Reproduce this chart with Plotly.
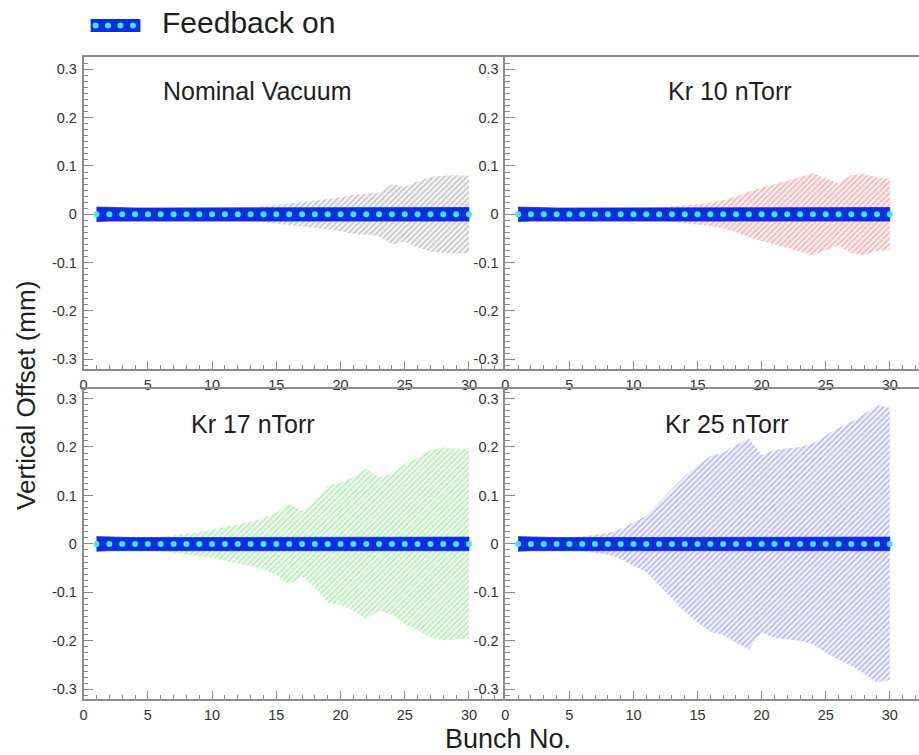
import plotly.graph_objects as go

W, H = 919, 755

# ---- data -------------------------------------------------------------
bunches = list(range(1, 31))

# feedback on: mean offset and its spread (mm)
fb_mean = [0.0, 0.0, 0.0, 0.0, 0.0, 0.0, 0.0, 0.0, 0.0, 0.0,
           0.0, 0.0, 0.0, 0.0, 0.0, 0.0, 0.0, 0.0, 0.0, 0.0,
           0.0, 0.0, 0.0, 0.0, 0.0, 0.0, 0.0, 0.0, 0.0, 0.0]
fb_err = [0.015, 0.014, 0.013, 0.013, 0.013, 0.013, 0.013, 0.013, 0.013, 0.013,
          0.013, 0.013, 0.014, 0.014, 0.014, 0.014, 0.014, 0.014, 0.014, 0.014,
          0.014, 0.014, 0.014, 0.014, 0.014, 0.014, 0.014, 0.014, 0.014, 0.014]

# feedback off: spread of the vertical offset per bunch (mm)
spread_nominal = [0.004, 0.004, 0.005, 0.005, 0.006, 0.006, 0.006, 0.007, 0.007, 0.008,
                  0.009, 0.011, 0.013, 0.016, 0.019, 0.022, 0.025, 0.028, 0.031, 0.035,
                  0.040, 0.043, 0.045, 0.062, 0.057, 0.068, 0.077, 0.080, 0.081, 0.080]
spread_kr10 = [0.004, 0.004, 0.005, 0.005, 0.006, 0.006, 0.007, 0.008, 0.010, 0.012,
               0.013, 0.014, 0.016, 0.018, 0.021, 0.024, 0.029, 0.037, 0.047, 0.055,
               0.062, 0.069, 0.077, 0.085, 0.074, 0.064, 0.081, 0.084, 0.076, 0.074]
spread_kr17 = [0.004, 0.006, 0.008, 0.010, 0.012, 0.015, 0.018, 0.021, 0.025, 0.029,
               0.034, 0.040, 0.046, 0.053, 0.064, 0.083, 0.068, 0.091, 0.121, 0.126,
               0.138, 0.155, 0.138, 0.145, 0.165, 0.178, 0.193, 0.199, 0.197, 0.195]
spread_kr25 = [0.004, 0.005, 0.007, 0.009, 0.012, 0.015, 0.018, 0.022, 0.031, 0.045,
               0.058, 0.086, 0.113, 0.140, 0.162, 0.181, 0.188, 0.204, 0.218, 0.183,
               0.194, 0.197, 0.200, 0.207, 0.224, 0.239, 0.252, 0.268, 0.286, 0.281]

panel_titles = ["Nominal Vacuum", "Kr 10 nTorr", "Kr 17 nTorr", "Kr 25 nTorr"]
panel_spreads = [spread_nominal, spread_kr10, spread_kr17, spread_kr25]

x_tickvals = [0, 5, 10, 15, 20, 25, 30]
x_ticktext = ["0", "5", "10", "15", "20", "25", "30"]
y_tickvals = [-0.3, -0.2, -0.1, 0.0, 0.1, 0.2, 0.3]
y_ticktext = ["-0.3", "-0.2", "-0.1", "0", "0.1", "0.2", "0.3"]

# ---- styling ----------------------------------------------------------
FONT = "Liberation Sans, Arial, Helvetica, sans-serif"
AXIS_GREY = "#8c8c8c"
TICK_FONT = dict(family=FONT, size=14.5, color="#333333")
BAND_BLUE = "#0c2ee0"
DOT_CYAN = "#3fe6ff"
hatch_fg = ["#858585", "#f06060", "#62dc62", "#6a6aec"]
hatch_bg = ["rgba(128,128,128,0.08)", "rgba(238,80,80,0.08)",
            "rgba(80,216,80,0.08)", "rgba(90,90,232,0.08)"]


def px_x(p):
    return p / W


def px_y(p):
    return 1 - p / H


# panel geometry (pixels): left/right columns, top/bottom rows
col_dom = [[px_x(80), px_x(503)], [px_x(503.5), 1.0]]
row_dom = [[px_y(369), px_y(56.7)], [px_y(699), px_y(389.3)]]
col_xrange = [[0, 32.79], [0, 32.28]]
row_yrange = [[-0.320, 0.326], [-0.320, 0.319]]

fig = go.Figure()

for i, (title, spread) in enumerate(zip(panel_titles, panel_spreads)):
    r, c = divmod(i, 2)
    n = i + 1
    xa = "x" if n == 1 else f"x{n}"
    ya = "y" if n == 1 else f"y{n}"

    # hatched envelope (feedback off)
    upper = [m + s for m, s in zip(fb_mean, spread)]
    lower = [m - s for m, s in zip(fb_mean, spread)]
    fig.add_trace(go.Scatter(
        x=bunches + bunches[::-1], y=upper + lower[::-1],
        mode="lines", line=dict(width=0), fill="toself",
        fillcolor=hatch_bg[i],
        fillpattern=dict(shape="/", fgcolor=hatch_fg[i],
                         bgcolor=hatch_bg[i], size=4, solidity=0.35),
        xaxis=xa, yaxis=ya, showlegend=False, hoverinfo="skip"))

    # feedback on: blue error band
    fb_up = [m + e for m, e in zip(fb_mean, fb_err)]
    fb_lo = [m - e for m, e in zip(fb_mean, fb_err)]
    fig.add_trace(go.Scatter(
        x=bunches + bunches[::-1], y=fb_up + fb_lo[::-1],
        mode="lines", line=dict(width=0.8, color=BAND_BLUE), fill="toself",
        fillcolor=BAND_BLUE, xaxis=xa, yaxis=ya,
        showlegend=False, hoverinfo="skip"))

    # feedback on: per-bunch markers
    fig.add_trace(go.Scatter(
        x=bunches, y=fb_mean, mode="markers",
        marker=dict(size=6, color=DOT_CYAN, line=dict(width=0)),
        xaxis=xa, yaxis=ya, showlegend=False, name="Feedback on"))

    xkey = "xaxis" if n == 1 else f"xaxis{n}"
    ykey = "yaxis" if n == 1 else f"yaxis{n}"
    fig.layout[xkey] = dict(
        domain=col_dom[c], range=col_xrange[c], anchor=ya,
        tickmode="array", tickvals=x_tickvals, ticktext=x_ticktext,
        ticks="inside", ticklen=8, tickwidth=1, tickcolor=AXIS_GREY,
        minor=dict(dtick=1, tick0=0, ticks="inside", ticklen=4,
                   tickcolor=AXIS_GREY, showgrid=False),
        showline=True, linecolor=AXIS_GREY, linewidth=1.6, mirror=True,
        showgrid=False, zeroline=False, tickfont=TICK_FONT,
        ticklabelstandoff=2, fixedrange=True)
    fig.layout[ykey] = dict(
        domain=row_dom[r], range=row_yrange[r], anchor=xa,
        tickmode="array", tickvals=y_tickvals, ticktext=y_ticktext,
        ticks="inside", ticklen=10, tickwidth=1, tickcolor=AXIS_GREY,
        minor=dict(dtick=0.0125, tick0=0, ticks="inside", ticklen=5,
                   tickcolor=AXIS_GREY, showgrid=False),
        showline=True, linecolor=AXIS_GREY, linewidth=1.6,
        showgrid=False, zeroline=False, tickfont=TICK_FONT,
        ticklabelstandoff=2, fixedrange=True)

# panel titles
title_pos = [(254.5, 91), (729, 91), (250, 424), (726, 424)]
annotations = []
for title, (tx, ty) in zip(panel_titles, title_pos):
    annotations.append(dict(
        text=title, x=px_x(tx), y=px_y(ty), xref="paper", yref="paper",
        xanchor="center", yanchor="middle", showarrow=False,
        font=dict(family=FONT, size=25, color="#1e1e1e")))

# shared axis titles
annotations.append(dict(
    text="Bunch No.", x=px_x(506), y=px_y(739), xref="paper", yref="paper",
    xanchor="center", yanchor="middle", showarrow=False,
    font=dict(family=FONT, size=27, color="#1e1e1e")))
annotations.append(dict(
    text="Vertical Offset (mm)", x=px_x(22), y=px_y(395), xref="paper",
    yref="paper", xanchor="center", yanchor="middle", textangle=-90,
    showarrow=False, font=dict(family=FONT, size=26, color="#1e1e1e")))

# legend
annotations.append(dict(
    text="Feedback on", x=px_x(157), y=px_y(22), xref="paper", yref="paper",
    xanchor="left", yanchor="middle", showarrow=False,
    font=dict(family=FONT, size=30, color="#1e1e1e")))

shapes = [dict(type="rect", xref="paper", yref="paper",
               x0=px_x(87), x1=px_x(137), y0=px_y(32), y1=px_y(19),
               fillcolor=BAND_BLUE, line=dict(width=0))]
for cx in (92, 104.5, 117, 129.5):
    shapes.append(dict(type="circle", xref="paper", yref="paper",
                       x0=px_x(cx - 3), x1=px_x(cx + 3),
                       y0=px_y(28.5), y1=px_y(22.5),
                       fillcolor=DOT_CYAN, line=dict(width=0)))

fig.update_layout(
    width=W, height=H,
    margin=dict(l=0, r=0, t=0, b=0),
    paper_bgcolor="white", plot_bgcolor="white",
    annotations=annotations, shapes=shapes,
    showlegend=False, font=dict(family=FONT))

fig.write_html("out.html")
